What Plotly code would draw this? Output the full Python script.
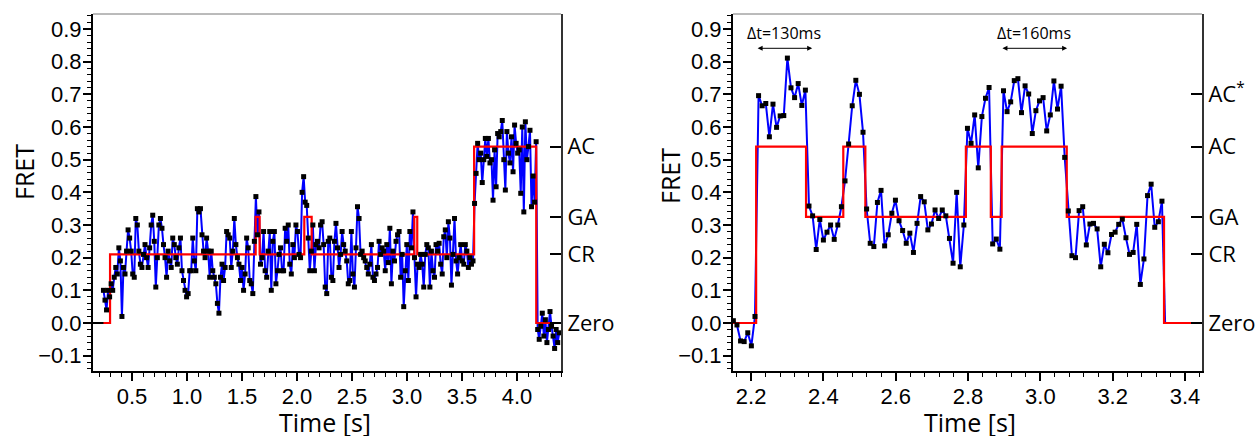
import plotly.graph_objects as go
import numpy as np

# ---------------- data: left panel ----------------
left_t0 = 0.24
left_dt = 0.014
left_fret = [
    0.10, 0.07, 0.04, 0.10, 0.08, 0.12, 0.10, 0.14, 0.17, 0.15,
    0.23, 0.19, 0.02, 0.17, 0.15, 0.22, 0.285, 0.26, 0.22, 0.15,
    0.14, 0.32, 0.30, 0.22, 0.18, 0.17, 0.21, 0.24, 0.20, 0.17,
    0.23, 0.30, 0.33, 0.25, 0.11, 0.20, 0.30, 0.32, 0.29, 0.24,
    0.20, 0.14, 0.22, 0.19, 0.17, 0.26, 0.24, 0.20, 0.18, 0.23,
    0.26, 0.16, 0.13, 0.10, 0.08, 0.09, 0.16, 0.16, 0.26, 0.19,
    0.16, 0.35, 0.34, 0.35, 0.27, 0.22, 0.20, 0.26, 0.22, 0.14,
    0.22, 0.16, 0.14, 0.12, 0.06, 0.03, 0.14, 0.18, 0.13, 0.17,
    0.28, 0.27, 0.26, 0.17, 0.22, 0.32, 0.24, 0.20, 0.18, 0.13,
    0.17, 0.10, 0.15, 0.26, 0.23, 0.13, 0.12, 0.09, 0.25, 0.387,
    0.27, 0.34, 0.18, 0.20, 0.28, 0.16, 0.14, 0.22, 0.28, 0.10,
    0.25, 0.28, 0.12, 0.16, 0.21, 0.23, 0.16, 0.16, 0.29, 0.25,
    0.30, 0.18, 0.15, 0.24, 0.20, 0.30, 0.28, 0.21, 0.20, 0.40,
    0.448, 0.37, 0.36, 0.26, 0.16, 0.22, 0.30, 0.16, 0.24, 0.25,
    0.23, 0.30, 0.31, 0.24, 0.11, 0.09, 0.25, 0.26, 0.14, 0.13,
    0.25, 0.305, 0.23, 0.17, 0.21, 0.28, 0.24, 0.22, 0.19, 0.12,
    0.13, 0.28, 0.15, 0.11, 0.23, 0.356, 0.32, 0.21, 0.22, 0.20,
    0.19, 0.17, 0.15, 0.18, 0.24, 0.14, 0.13, 0.15, 0.17, 0.25,
    0.21, 0.23, 0.22, 0.16, 0.24, 0.185, 0.29, 0.12, 0.22, 0.19,
    0.25, 0.27, 0.28, 0.14, 0.21, 0.05, 0.16, 0.24, 0.13, 0.28,
    0.23, 0.34, 0.20, 0.08, 0.18, 0.17, 0.21, 0.18, 0.11, 0.21,
    0.24, 0.23, 0.11, 0.22, 0.16, 0.14, 0.24, 0.22, 0.244, 0.18,
    0.15, 0.264, 0.285, 0.20, 0.31, 0.26, 0.116, 0.21, 0.32, 0.19,
    0.15, 0.20, 0.24, 0.19, 0.18, 0.24, 0.22, 0.17, 0.20, 0.18,
    0.19, 0.366, 0.458, 0.55, 0.50, 0.52, 0.43, 0.50, 0.565, 0.51,
    0.565, 0.49, 0.50, 0.376, 0.53, 0.417, 0.58, 0.57, 0.586, 0.62,
    0.50, 0.407, 0.586, 0.52, 0.49, 0.57, 0.463, 0.606, 0.55, 0.52,
    0.53, 0.397, 0.60, 0.34, 0.616, 0.50, 0.54, 0.59, 0.356, 0.45,
    0.37, 0.555, -0.02, -0.05, -0.01, 0.03, -0.04, 0.01, -0.06, -0.02,
    0.035, -0.01, -0.04, -0.078, -0.02, -0.06, -0.03,
]
left_step_t = [0.145, 0.30, 1.624, 1.66, 2.066, 2.133, 3.066, 3.093, 3.61, 4.175, 4.40]
left_step_v = [0.0, 0.21, 0.325, 0.21, 0.325, 0.21, 0.325, 0.21, 0.54, 0.0, 0.0]
left_base_t = [0.145, 0.24]
left_base_v = [0.0, 0.0]

# ---------------- data: right panel ----------------
right_t0 = 2.151
right_dt = 0.00996
right_fret = [
    0.007, -0.006, -0.055, -0.057, -0.03, -0.07, 0.02, 0.696, 0.665, 0.672,
    0.57, 0.67, 0.599, 0.634, 0.635, 0.811, 0.72, 0.69, 0.733, 0.666,
    0.713, 0.358, 0.328, 0.225, 0.317, 0.254, 0.278, 0.30, 0.256, 0.30,
    0.356, 0.435, 0.548, 0.665, 0.743, 0.70, 0.584, 0.349, 0.244, 0.234,
    0.369, 0.406, 0.236, 0.27, 0.336, 0.376, 0.313, 0.283, 0.244, 0.275,
    0.216, 0.305, 0.387, 0.371, 0.285, 0.303, 0.346, 0.32, 0.346, 0.328,
    0.259, 0.183, 0.40, 0.172, 0.30, 0.596, 0.55, 0.637, 0.475, 0.632,
    0.688, 0.721, 0.242, 0.257, 0.226, 0.711, 0.647, 0.677, 0.742, 0.748,
    0.644, 0.726, 0.701, 0.58, 0.65, 0.68, 0.69, 0.588, 0.637, 0.741,
    0.655, 0.725, 0.507, 0.343, 0.206, 0.20, 0.344, 0.356, 0.239, 0.303,
    0.305, 0.288, 0.172, 0.241, 0.215, 0.271, 0.278, 0.302, 0.318, 0.261,
    0.21, 0.216, 0.302, 0.118, 0.196, 0.39, 0.425, 0.293, 0.31, 0.373,
]
right_step_t = [2.15, 2.214, 2.352, 2.455, 2.516, 2.794, 2.863, 2.893, 3.073, 3.342, 3.447]
right_step_v = [0.0, 0.54, 0.325, 0.54, 0.325, 0.54, 0.325, 0.54, 0.325, 0.0, 0.0]

state_levels = [0.0, 0.21, 0.325, 0.54, 0.70]
state_names = ["Zero", "CR", "GA", "AC", "AC<sup>*</sup>"]

y_range = [-0.147, 0.946]
left_x_range = [0.145, 4.40]
right_x_range = [2.15, 3.447]

left_t = left_t0 + left_dt * np.arange(len(left_fret))
right_t = right_t0 + right_dt * np.arange(len(right_fret))

BLUE = "#0000ff"
RED = "#ff0000"

fig = go.Figure()

def add_panel(xa, ya, t, v, st, sv):
    fig.add_trace(go.Scatter(x=t, y=v, mode="lines", line=dict(color=BLUE, width=2),
                             xaxis=xa, yaxis=ya, showlegend=False, hoverinfo="skip"))
    fig.add_trace(go.Scatter(x=st, y=sv, mode="lines", line=dict(color=RED, width=2.2, shape="hv"),
                             xaxis=xa, yaxis=ya, showlegend=False, hoverinfo="skip"))
    fig.add_trace(go.Scatter(x=t, y=v, mode="markers",
                             marker=dict(color="black", symbol="square", size=5, line=dict(width=0)),
                             xaxis=xa, yaxis=ya, showlegend=False, hoverinfo="skip"))

add_panel("x", "y", left_t, left_fret, left_step_t, left_step_v)
fig.add_trace(go.Scatter(x=left_base_t, y=left_base_v, mode="lines", line=dict(color="black", width=2),
                         xaxis="x", yaxis="y", showlegend=False, hoverinfo="skip"))
# blue drop to zero at end of right trace (hidden under step line)
fig.add_trace(go.Scatter(x=[right_t[-1], right_step_t[-2] + 0.003], y=[right_fret[-1], 0.0], mode="lines",
                         line=dict(color=BLUE, width=2), xaxis="x2", yaxis="y2",
                         showlegend=False, hoverinfo="skip"))
add_panel("x2", "y2", right_t, right_fret, right_step_t, right_step_v)
# dummy traces to attach the state-label axes
fig.add_trace(go.Scatter(x=[None], y=[None], xaxis="x", yaxis="y3", showlegend=False, hoverinfo="skip"))
fig.add_trace(go.Scatter(x=[None], y=[None], xaxis="x2", yaxis="y4", showlegend=False, hoverinfo="skip"))

tick_font = dict(family="Liberation Sans, Arial", size=22, color="black")
label_font = dict(family="Open Sans", size=22, color="black")
title_font = dict(family="Open Sans", size=25, color="black")

y_dom = [1 - 371 / 436, 1 - 14 / 436]
xL_dom = [93 / 1260, 561 / 1260]
xR_dom = [733 / 1260, 1202 / 1260]

def yaxis_main(anchor):
    return dict(domain=y_dom, range=y_range, anchor=anchor, dtick=0.1, tick0=0, tickformat=".1f",
                ticks="outside", ticklen=8, tickwidth=1.5, tickcolor="black", ticklabelstandoff=-3,
                minor=dict(dtick=0.02, tick0=0, ticks="outside", ticklen=4, tickwidth=1.2, tickcolor="black"),
                showline=True, linecolor="black", linewidth=2, showgrid=False, zeroline=False,
                tickfont=tick_font, fixedrange=True)

def yaxis_states(overlay, anchor):
    n = 5 if overlay == "y2" else 4
    return dict(overlaying=overlay, side="right", anchor=anchor, range=y_range,
                tickmode="array", tickvals=state_levels[:n], ticktext=state_names[:n],
                ticks="inside", ticklen=11, tickwidth=1.5, tickcolor="black",
                showline=True, linecolor="#333333", linewidth=2, showgrid=False, zeroline=False,
                tickfont=label_font, fixedrange=True)

def xaxis(dom, rng, dtick, mdtick, anchor):
    return dict(domain=dom, range=rng, anchor=anchor, dtick=dtick, tick0=0, tickformat=".1f",
                ticks="outside", ticklen=8, tickwidth=1.5, tickcolor="black", ticklabelstandoff=-3,
                minor=dict(dtick=mdtick, tick0=0, ticks="outside", ticklen=4, tickwidth=1.2, tickcolor="black"),
                showline=True, linecolor="black", linewidth=2, showgrid=False, zeroline=False,
                tickfont=tick_font, fixedrange=True)

fig.update_layout(
    width=1260, height=436,
    margin=dict(l=0, r=0, t=0, b=0),
    paper_bgcolor="white", plot_bgcolor="white",
    xaxis=xaxis(xL_dom, left_x_range, 0.5, 0.1, "y"),
    yaxis=yaxis_main("x"),
    xaxis2=xaxis(xR_dom, right_x_range, 0.2, 0.04, "y2"),
    yaxis2=yaxis_main("x2"),
    yaxis3=yaxis_states("y", "x"),
    yaxis4=yaxis_states("y2", "x2"),
)

# top frame lines
for xr, yr in (("x domain", "y domain"), ("x2 domain", "y2 domain")):
    fig.add_shape(type="line", xref=xr, yref=yr, x0=0, x1=1, y0=1, y1=1,
                  line=dict(color="#777777", width=1))

# axis titles
fig.add_annotation(text="FRET", x=24 / 1260, y=1 - 172 / 436, xref="paper", yref="paper",
                   textangle=-90, showarrow=False, font=title_font, xanchor="center", yanchor="middle")
fig.add_annotation(text="Time [s]", x=325 / 1260, y=1 - 422 / 436, xref="paper", yref="paper",
                   showarrow=False, font=title_font, xanchor="center", yanchor="middle", borderpad=0)
fig.add_annotation(text="FRET", x=670 / 1260, y=1 - 176 / 436, xref="paper", yref="paper",
                   textangle=-90, showarrow=False, font=title_font, xanchor="center", yanchor="middle")
fig.add_annotation(text="Time [s]", x=970 / 1260, y=1 - 422 / 436, xref="paper", yref="paper",
                   showarrow=False, font=title_font, xanchor="center", yanchor="middle", borderpad=0)

# dwell-time annotations
dwell_labels = ["Δt=130ms", "Δt=160ms"]
dwell_start = [2.214, 2.891]
dwell_end = [2.369, 3.074]
for lab, a, b in zip(dwell_labels, dwell_start, dwell_end):
    fig.add_annotation(text=lab, x=(a + b) / 2, y=0.888, xref="x2", yref="y2", showarrow=False,
                       font=dict(family="Open Sans", size=16, color="black"))
    fig.add_annotation(text="", x=b, y=0.841, ax=a, ay=0.841, xref="x2", yref="y2",
                       axref="x2", ayref="y2", showarrow=True, arrowhead=2, arrowside="end+start",
                       arrowsize=1, arrowwidth=1, arrowcolor="black")

fig.write_html("out.html")
